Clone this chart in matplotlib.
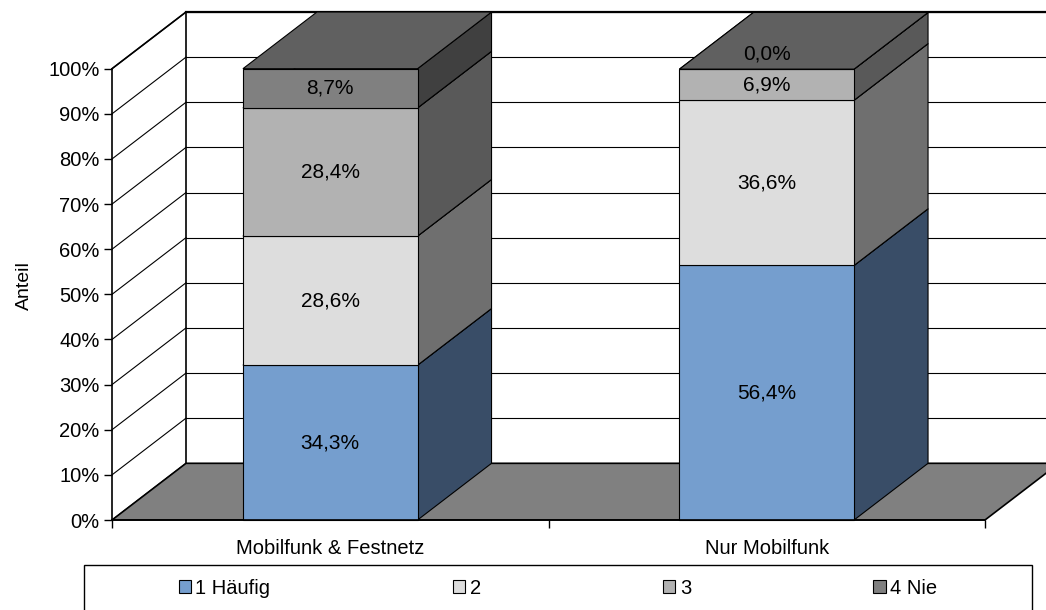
import matplotlib
matplotlib.use("Agg")
import matplotlib.pyplot as plt
from matplotlib.patches import Polygon, Rectangle, Patch

plt.rcParams['font.family'] = ['Liberation Sans', 'DejaVu Sans']

# ---- data ----
categories = ["Mobilfunk & Festnetz", "Nur Mobilfunk"]
series_names = ["1 Häufig", "2", "3", "4 Nie"]
s1_haeufig = [34.3, 56.4]
s2 = [28.6, 36.6]
s3 = [28.4, 6.9]
s4_nie = [8.7, 0.0]
yticks = list(range(0, 101, 10))
ytick_labels = [f"{v}%" for v in yticks]
y_label = "Anteil"

# ---- styles ----
front_colors = ["#759ECE", "#DDDDDD", "#B2B2B2", "#808080"]
side_colors = ["#394D67", "#6F6F6F", "#595959", "#404040"]
top_colors = ["#5876A0", "#A6A6A6", "#858585", "#606060"]
floor_color = "#808080"

W, H, DPI = 1046, 610, 100
fig = plt.figure(figsize=(W / DPI, H / DPI), dpi=DPI)
ax = fig.add_axes([112 / W, 90 / H, 873 / W, 451.3 / H])
ax.set_xlim(0, len(categories))
ax.set_ylim(0, 100)

# depth of the 3D projection in data units
DX = 0.1695
DY = 12.56
NC = len(categories)
LW = 0.8

# back wall
ax.add_patch(Polygon([(DX, DY), (NC + DX, DY), (NC + DX, 100 + DY), (DX, 100 + DY)],
                     closed=True, facecolor="white", edgecolor="none", clip_on=False, zorder=0.5))
# left wall
ax.add_patch(Polygon([(0, 0), (DX, DY), (DX, 100 + DY), (0, 100)], closed=True,
                     facecolor="white", edgecolor="none", clip_on=False, zorder=0.5))
# gridlines
for v in yticks:
    ax.plot([0, DX], [v, v + DY], color="black", lw=LW, clip_on=False, zorder=0.8)
    ax.plot([DX, NC + DX], [v + DY, v + DY], color="black", lw=LW, clip_on=False, zorder=0.8)
ax.plot([DX, NC + DX], [100 + DY, 100 + DY], color="black", lw=1.6, clip_on=False, zorder=0.9)
ax.plot([0, DX], [100, 100 + DY], color="black", lw=1.2, clip_on=False, zorder=0.9)
ax.plot([DX, DX], [DY, 100 + DY], color="black", lw=1.2, clip_on=False, zorder=0.9)

# floor
ax.add_patch(Polygon([(0, 0), (NC, 0), (NC + DX, DY), (DX, DY)], closed=True,
                     facecolor=floor_color, edgecolor="black", lw=1.2, clip_on=False, zorder=1))

# bars
all_series = [s1_haeufig, s2, s3, s4_nie]
bar_w = 0.4
for i in range(NC):
    c = i + 0.5
    x0, x1 = c - bar_w / 2, c + bar_w / 2
    b = 0.0
    for s, vals in enumerate(all_series):
        v = vals[i]
        t = b + v
        z = 2 + s * 0.1
        ax.add_patch(Polygon([(x1, b), (x1 + DX, b + DY), (x1 + DX, t + DY), (x1, t)], closed=True,
                             facecolor=side_colors[s], edgecolor="black", lw=LW, clip_on=False, zorder=z))
        ax.add_patch(Polygon([(x0, t), (x1, t), (x1 + DX, t + DY), (x0 + DX, t + DY)], closed=True,
                             facecolor=top_colors[s], edgecolor="black", lw=LW, clip_on=False, zorder=z))
        ax.add_patch(Rectangle((x0, b), x1 - x0, v, facecolor=front_colors[s], edgecolor="black",
                               lw=LW, clip_on=False, zorder=z + 0.01))
        ly = b + v / 2 if v > 0 else b + 3.4
        ax.text(c, ly, f"{v:.1f}%".replace(".", ","), ha="center", va="center",
                fontsize=15, color="black", zorder=5)
        b = t

# axes styling
for sp in ["top", "right"]:
    ax.spines[sp].set_visible(False)
ax.spines["left"].set_linewidth(1.2)
ax.spines["bottom"].set_linewidth(1.2)
ax.patch.set_visible(False)
ax.set_yticks(yticks)
ax.set_yticklabels(ytick_labels, fontsize=14.5)
ax.tick_params(axis="y", length=6, width=1, pad=3)
ax.set_xticks(range(NC + 1))
ax.set_xticklabels([""] * (NC + 1))
ax.tick_params(axis="x", which="major", length=5.5, width=1)
ax.set_xticks([i + 0.5 for i in range(NC)], minor=True)
ax.set_xticklabels(categories, minor=True, fontsize=14.5)
ax.tick_params(axis="x", which="minor", length=0, pad=13.5)
ax.set_ylabel(y_label, fontsize=14)
ax.yaxis.set_label_coords(-0.09, 0.52)

# legend
fig.patches.append(Rectangle((84 / W, -0.01), 948 / W, 45 / H + 0.01, transform=fig.transFigure,
                             fill=False, edgecolor="black", lw=1))
handles = [Patch(facecolor=front_colors[s], edgecolor="black", lw=0.8) for s in range(4)]
fig.legend(handles, series_names, loc="center", bbox_to_anchor=(558 / W, 1 - 588 / H),
           ncol=4, frameon=False, fontsize=14.5, handlelength=0.62, handleheight=0.62,
           handletextpad=0.22, columnspacing=9.05)

fig.savefig("out.png", dpi=DPI)
